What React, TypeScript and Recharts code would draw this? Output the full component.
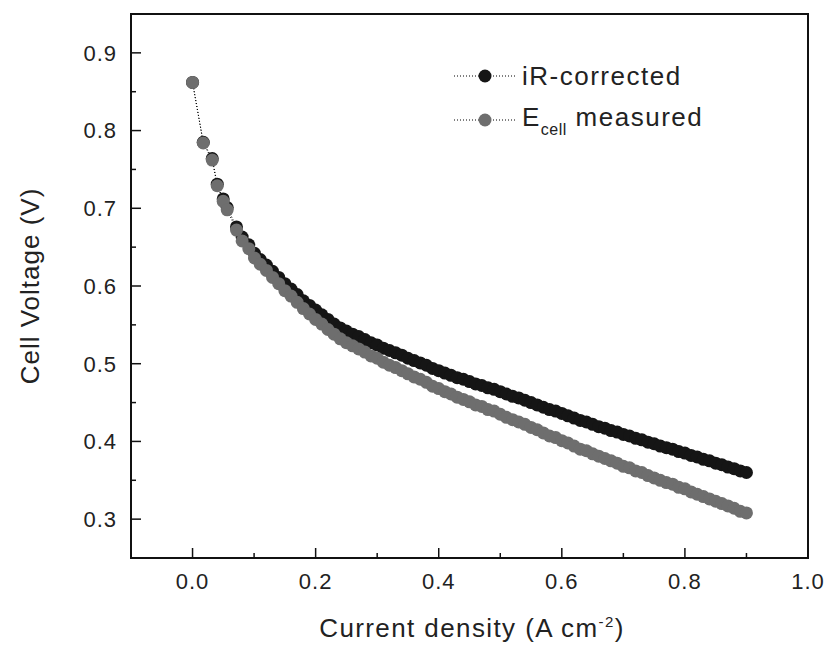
import React from 'react';
import { LineChart, Line, XAxis, YAxis, ReferenceArea, Legend } from 'recharts';

const CURRENT = [
  0, 0.0174, 0.032, 0.0401, 0.0498, 0.0563, 0.0714, 0.0806, 0.0914, 0.1006,
  0.11, 0.12, 0.13, 0.14, 0.15, 0.16, 0.17, 0.18, 0.19, 0.2,
  0.21, 0.22, 0.23, 0.24, 0.25, 0.26, 0.27, 0.28, 0.29, 0.3,
  0.31, 0.32, 0.33, 0.34, 0.35, 0.36, 0.37, 0.38, 0.39, 0.4,
  0.41, 0.42, 0.43, 0.44, 0.45, 0.46, 0.47, 0.48, 0.49, 0.5,
  0.51, 0.52, 0.53, 0.54, 0.55, 0.56, 0.57, 0.58, 0.59, 0.6,
  0.61, 0.62, 0.63, 0.64, 0.65, 0.66, 0.67, 0.68, 0.69, 0.7,
  0.71, 0.72, 0.73, 0.74, 0.75, 0.76, 0.77, 0.78, 0.79, 0.8,
  0.81, 0.82, 0.83, 0.84, 0.85, 0.86, 0.87, 0.88, 0.89, 0.9,
];

const IR_CORRECTED = [
  0.862, 0.785, 0.764, 0.731, 0.712, 0.701, 0.676, 0.663, 0.653, 0.642,
  0.634, 0.627, 0.619, 0.611, 0.603, 0.596, 0.589, 0.581, 0.575, 0.569,
  0.563, 0.557, 0.551, 0.546, 0.542, 0.538, 0.535, 0.531, 0.527, 0.524,
  0.520, 0.517, 0.514, 0.511, 0.507, 0.504, 0.501, 0.498, 0.494, 0.491,
  0.488, 0.485, 0.482, 0.480, 0.477, 0.474, 0.472, 0.469, 0.467, 0.464,
  0.461, 0.458, 0.456, 0.453, 0.450, 0.447, 0.444, 0.441, 0.439, 0.436,
  0.433, 0.430, 0.427, 0.425, 0.422, 0.419, 0.417, 0.414, 0.412, 0.409,
  0.407, 0.404, 0.402, 0.399, 0.397, 0.394, 0.392, 0.390, 0.387, 0.385,
  0.382, 0.380, 0.377, 0.375, 0.372, 0.370, 0.367, 0.365, 0.362, 0.360,
];

const E_CELL_MEASURED = [
  0.862, 0.784, 0.762, 0.729, 0.709, 0.698, 0.672, 0.658, 0.648, 0.636,
  0.628, 0.620, 0.611, 0.603, 0.594, 0.587, 0.579, 0.571, 0.564, 0.557,
  0.551, 0.544, 0.538, 0.532, 0.527, 0.523, 0.519, 0.515, 0.510, 0.507,
  0.502, 0.498, 0.495, 0.491, 0.487, 0.483, 0.480, 0.476, 0.471, 0.468,
  0.464, 0.461, 0.457, 0.454, 0.451, 0.447, 0.445, 0.441, 0.439, 0.435,
  0.431, 0.428, 0.425, 0.422, 0.418, 0.415, 0.411, 0.407, 0.405, 0.401,
  0.398, 0.394, 0.390, 0.388, 0.384, 0.381, 0.378, 0.375, 0.372, 0.368,
  0.366, 0.362, 0.360, 0.356, 0.353, 0.350, 0.347, 0.345, 0.341, 0.339,
  0.335, 0.332, 0.329, 0.326, 0.323, 0.320, 0.317, 0.314, 0.310, 0.308,
];

const X_TICKS = [-0.1, 0, 0.1, 0.2, 0.3, 0.4, 0.5, 0.6, 0.7, 0.8, 0.9, 1.0];
const Y_TICKS = [0.25, 0.3, 0.35, 0.4, 0.45, 0.5, 0.55, 0.6, 0.65, 0.7, 0.75, 0.8, 0.85, 0.9, 0.95];
const X_DOMAIN = [-0.1, 1.0];
const Y_DOMAIN = [0.25, 0.95];

const SERIES_NAMES = ['iR-corrected', 'measured'];
const IR_COLOR = '#151515';
const MEAS_COLOR = '#6e6e6e';
const FONT = '"Liberation Sans", Arial, sans-serif';
const TEXT_COLOR = '#222';

const data = CURRENT.map((c, i) => ({
  current: c,
  ir: IR_CORRECTED[i],
  meas: E_CELL_MEASURED[i],
}));

const XTick = (props: any) => {
  const { x, y, payload } = props;
  const v = payload.value as number;
  const major = Math.round(v * 10) % 2 === 0;
  return (
    <g>
      <line x1={x} x2={x} y1={y} y2={y - (major ? 10 : 5)} stroke="#111" strokeWidth={1.5} />
      {major && v >= 0 && (
        <text x={x} y={y + 31} textAnchor="middle" fontSize={22} letterSpacing={1} fontFamily={FONT} fill={TEXT_COLOR}>
          {v.toFixed(1)}
        </text>
      )}
    </g>
  );
};

const YTick = (props: any) => {
  const { x, y, payload } = props;
  const v = payload.value as number;
  const major = Math.round(v * 100) % 10 === 0;
  return (
    <g>
      <line x1={x} x2={x + (major ? 10 : 5)} y1={y} y2={y} stroke="#111" strokeWidth={1.5} />
      {major && (
        <text x={x - 14} y={y} dy="0.36em" textAnchor="end" fontSize={22} letterSpacing={1} fontFamily={FONT} fill={TEXT_COLOR}>
          {v.toFixed(1)}
        </text>
      )}
    </g>
  );
};

const LegendSample = ({ color }: { color: string }) => (
  <svg width={66} height={20} style={{ display: 'block', marginRight: 4 }}>
    <line x1={2} x2={64} y1={10} y2={10} stroke="#000" strokeWidth={1} strokeDasharray="1 2" />
    <circle cx={33} cy={10} r={6.5} fill={color} />
  </svg>
);

const LegendContent = () => (
  <div style={{ fontFamily: FONT, color: TEXT_COLOR, fontSize: 26, letterSpacing: 1.5 }}>
    <div style={{ display: 'flex', alignItems: 'center', height: 44 }}>
      <LegendSample color={IR_COLOR} />
      <span>{SERIES_NAMES[0]}</span>
    </div>
    <div style={{ display: 'flex', alignItems: 'center', height: 44 }}>
      <LegendSample color={MEAS_COLOR} />
      <span>
        E<sub style={{ fontSize: 16, verticalAlign: -9, letterSpacing: 0.5 }}>cell</sub> {SERIES_NAMES[1]}
      </span>
    </div>
  </div>
);

export default function App() {
  return (
    <div style={{ position: 'absolute', left: 0, top: 0, width: 827, height: 645, background: '#fff' }}>
      <LineChart
        width={827}
        height={645}
        data={data}
        margin={{ top: 14, right: 19, bottom: 47, left: 71 }}
      >
        <XAxis
          dataKey="current"
          type="number"
          domain={X_DOMAIN}
          ticks={X_TICKS}
          interval={0}
          allowDataOverflow
          height={40}
          tickSize={0}
          tickMargin={0}
          tickLine={false}
          axisLine={{ stroke: '#111', strokeWidth: 2 }}
          tick={(p: any) => <XTick {...p} />}
        />
        <YAxis
          type="number"
          domain={Y_DOMAIN}
          ticks={Y_TICKS}
          interval={0}
          allowDataOverflow
          width={60}
          tickSize={0}
          tickMargin={0}
          tickLine={false}
          axisLine={{ stroke: '#111', strokeWidth: 2 }}
          tick={(p: any) => <YTick {...p} />}
        />
        <ReferenceArea
          x1={X_DOMAIN[0]}
          x2={X_DOMAIN[1]}
          y1={Y_DOMAIN[0]}
          y2={Y_DOMAIN[1]}
          fill="none"
          fillOpacity={0}
          stroke="#111"
          strokeWidth={2}
        />
        <Line
          dataKey="ir"
          name={SERIES_NAMES[0]}
          stroke="#000"
          strokeWidth={1}
          strokeDasharray="1 2"
          dot={{ r: 6.5, fill: IR_COLOR, stroke: 'none' }}
          activeDot={false}
          isAnimationActive={false}
        />
        <Line
          dataKey="meas"
          name={SERIES_NAMES[1]}
          stroke="#000"
          strokeWidth={1}
          strokeDasharray="1 2"
          dot={{ r: 6.5, fill: MEAS_COLOR, stroke: 'none' }}
          activeDot={false}
          isAnimationActive={false}
        />
        <Legend
          layout="vertical"
          align="center"
          verticalAlign="middle"
          content={() => <LegendContent />}
          wrapperStyle={{ left: 452, top: 54, width: 340, height: 90 }}
        />
      </LineChart>
      <div
        style={{
          position: 'absolute',
          left: 472,
          top: 628,
          transform: 'translate(-50%, -50%)',
          whiteSpace: 'nowrap',
          fontFamily: FONT,
          fontSize: 26,
          letterSpacing: 1.4,
          color: TEXT_COLOR,
        }}
      >
        Current density (A cm<sup style={{ fontSize: 15 }}>-2</sup>)
      </div>
      <div
        style={{
          position: 'absolute',
          left: 30,
          top: 286,
          transform: 'translate(-50%, -50%) rotate(-90deg)',
          whiteSpace: 'nowrap',
          fontFamily: FONT,
          fontSize: 26,
          letterSpacing: 1,
          color: TEXT_COLOR,
        }}
      >
        Cell Voltage (V)
      </div>
    </div>
  );
}
